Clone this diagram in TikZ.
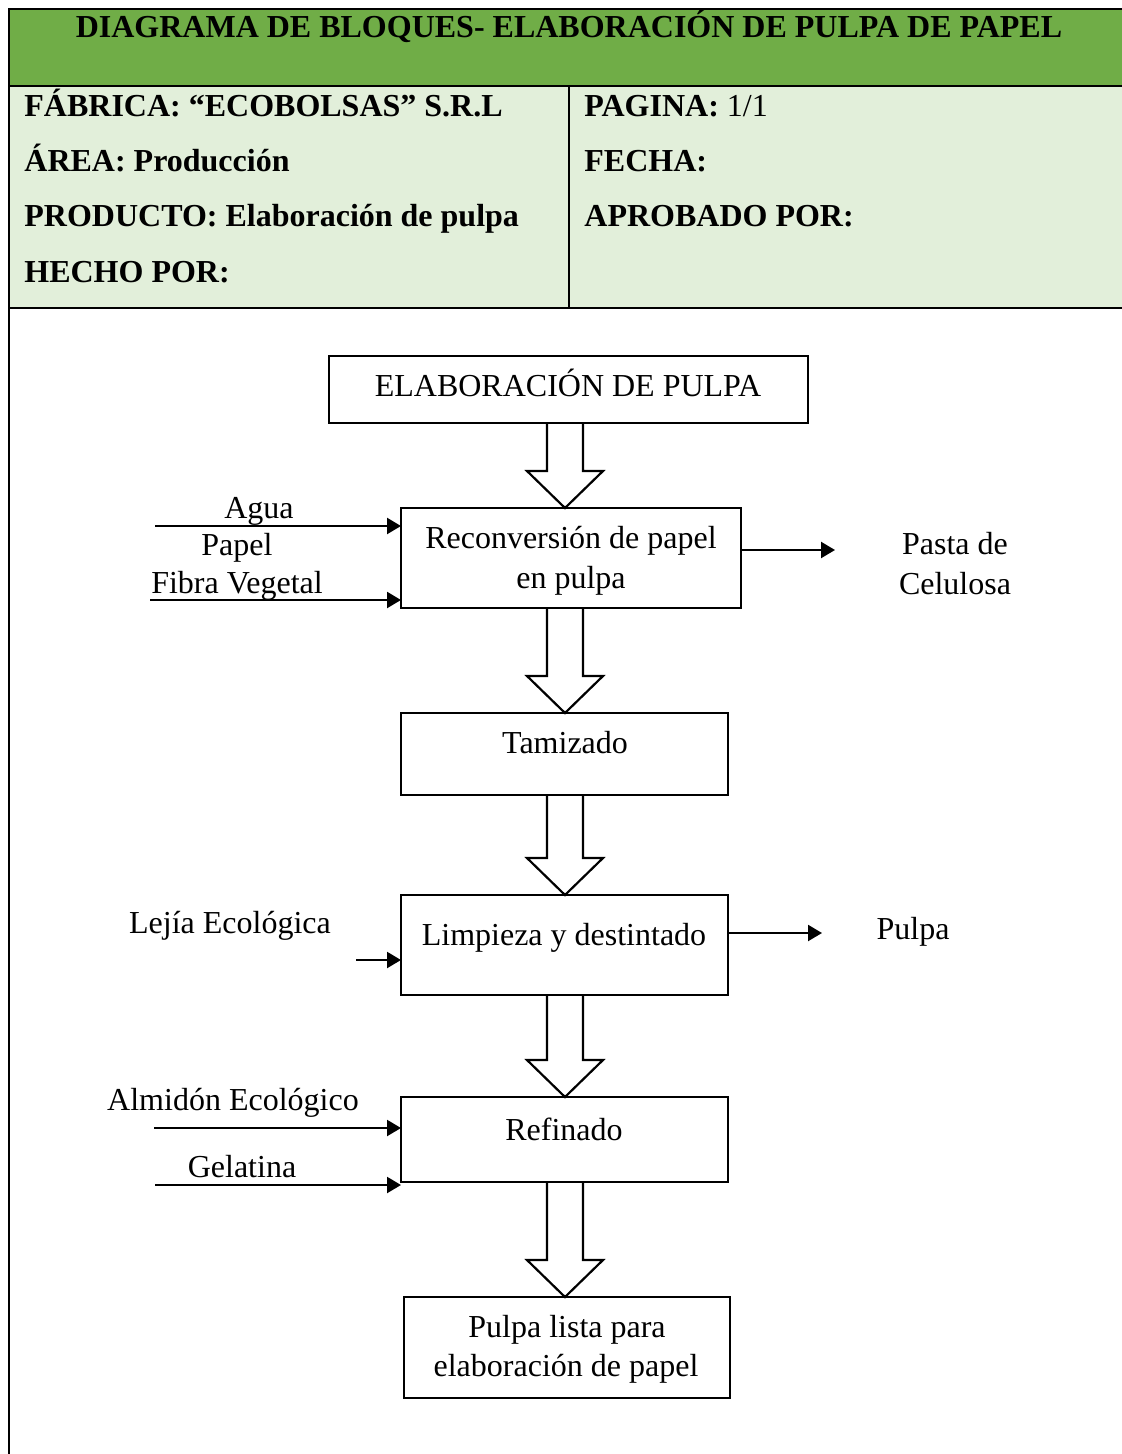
\documentclass[tikz,border=0pt]{standalone}
\usepackage{fontspec}
\setmainfont{Liberation Serif}
\usetikzlibrary{calc,arrows.meta}
\definecolor{hdrgreen}{RGB}{112,173,71}
\definecolor{infogreen}{RGB}{226,239,218}
\newcommand\blockarr[2]{%
  \draw[blk] ($(#1.south -| axis)+(-18,0)$) -- ($(#2.north -| axis)+(-18,-37)$)
    -- ($(#2.north -| axis)+(-38,-37)$) -- (#2.north -| axis)
    -- ($(#2.north -| axis)+(38,-37)$) -- ($(#2.north -| axis)+(18,-37)$)
    -- ($(#1.south -| axis)+(18,0)$);}
\begin{document}
\begin{tikzpicture}[x=0.5pt,y=-0.5pt,
  frame/.style={line width=1.1pt},
  box/.style={draw,line width=1.1pt,rectangle,inner sep=0pt,outer sep=0pt},
  txt/.style={font=\fontsize{16}{20}\selectfont,inner sep=0pt,anchor=base},
  hdr/.style={font=\fontsize{16}{20}\selectfont\bfseries,inner sep=0pt,anchor=base west},
  flow/.style={line width=1.1pt,-{Triangle[length=7pt,width=8pt]}},
  blk/.style={line width=1.1pt,line join=miter}]
\useasboundingbox (0,0) rectangle (1122,1454);
% header table
\fill[hdrgreen] (9,9) rectangle (1122,86);
\fill[infogreen] (9,86) rectangle (1122,308);
\draw[frame] (1122,9) -- (9,9) -- (9,1454);
\draw[frame] (9,86) -- (1122,86);
\draw[frame] (9,308) -- (1122,308);
\draw[frame] (569,86) -- (569,308);
\node[hdr,anchor=base] (title) at (569,38) {DIAGRAMA DE BLOQUES- ELABORACIÓN DE PULPA DE PAPEL};
\node[hdr] (fab) at (24,117) {FÁBRICA: “ECOBOLSAS” S.R.L};
\node[hdr] (area) at (24,172) {ÁREA: Producción};
\node[hdr] (prod) at (24,227) {PRODUCTO: Elaboración de pulpa};
\node[hdr] (hecho) at (24,283) {HECHO POR:};
\node[hdr] (pag) at (584,117) {PAGINA: \textmd{1/1}};
\node[hdr] (fecha) at (584,172) {FECHA:};
\node[hdr] (aprob) at (584,227) {APROBADO POR:};
% axis for block arrows
\coordinate (axis) at (565,0);
% boxes
\node[box,minimum width=239.5pt,minimum height=33.5pt] (b0) at (568.5,389.5) {};
\node[box,minimum width=170pt,minimum height=50pt] (b1) at (571,558) {};
\node[box,minimum width=163.5pt,minimum height=41pt] (b2) at (564.5,754) {};
\node[box,minimum width=163.5pt,minimum height=50pt] (b3) at (564.5,945) {};
\node[box,minimum width=163.5pt,minimum height=42.5pt] (b4) at (564.5,1139.5) {};
\node[box,minimum width=163pt,minimum height=50.5pt] (b5) at (567,1347.5) {};
% box texts
\node[txt] (t0) at (568,397) {ELABORACIÓN DE PULPA};
\node[txt] (t1a) at (571,548) {Reconversión de papel};
\node[txt] (t1b) at (571,588) {en pulpa};
\node[txt] (t2) at (565,753) {Tamizado};
\node[txt] (t3) at (564,945) {Limpieza y destintado};
\node[txt] (t4) at (564,1140) {Refinado};
\node[txt] (t5a) at (567,1337) {Pulpa lista para};
\node[txt] (t5b) at (566,1376) {elaboración de papel};
% block arrows
\blockarr{b0}{b1}
\blockarr{b1}{b2}
\blockarr{b2}{b3}
\blockarr{b3}{b4}
\blockarr{b4}{b5}
% side inputs / outputs
\coordinate (aguaS) at (155,526);
\coordinate (fibraS) at (150,600);
\coordinate (pastaE) at (835,550);
\coordinate (lejiaS) at (356,960);
\coordinate (pulpaE) at (822,933);
\coordinate (almS) at (154,1128);
\coordinate (gelS) at (155,1185);
\draw[flow] (aguaS) -- (aguaS -| b1.west);
\draw[flow] (fibraS) -- (fibraS -| b1.west);
\draw[flow] (pastaE -| b1.east) -- (pastaE);
\draw[flow] (lejiaS) -- (lejiaS -| b3.west);
\draw[flow] (pulpaE -| b3.east) -- (pulpaE);
\draw[flow] (almS) -- (almS -| b4.west);
\draw[flow] (gelS) -- (gelS -| b4.west);
% labels
\node[txt] (lagua) at (259,518) {Agua};
\node[txt] (lpapel) at (237,555) {Papel};
\node[txt] (lfibra) at (237,593) {Fibra Vegetal};
\node[txt] (lpasta) at (955,554) {Pasta de};
\node[txt] (lcel) at (955,594) {Celulosa};
\node[txt] (llejia) at (230,933) {Lejía Ecológica};
\node[txt] (lpulpa) at (913,939) {Pulpa};
\node[txt] (lalm) at (233,1110) {Almidón Ecológico};
\node[txt] (lgel) at (242,1177) {Gelatina};
\end{tikzpicture}
\end{document}
